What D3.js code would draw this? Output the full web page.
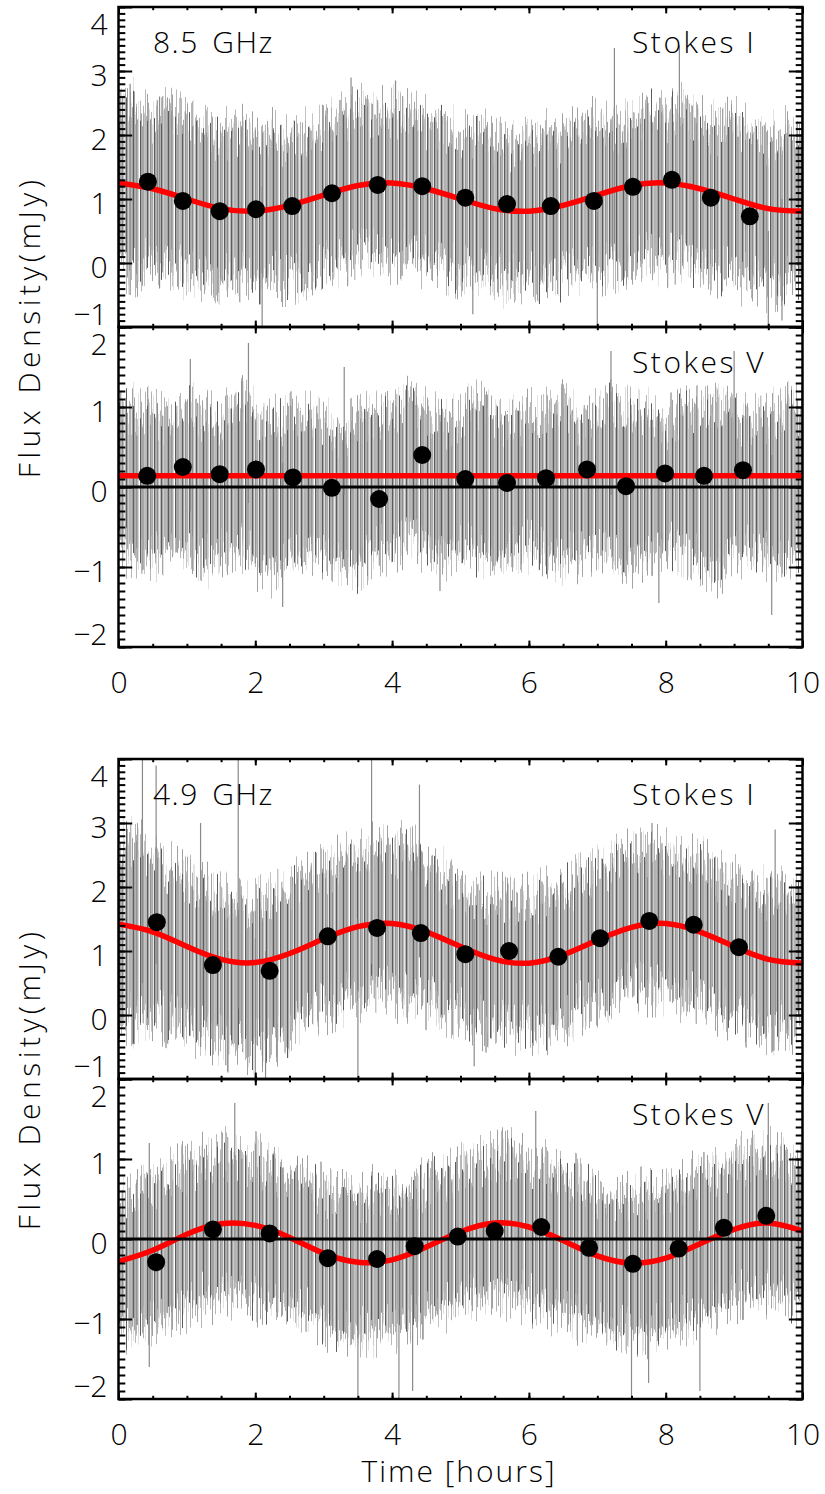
<!DOCTYPE html>
<html>
<head>
<meta charset="utf-8">
<script src="https://cdn.jsdelivr.net/npm/d3@7"></script>
<style>
  body { margin: 0; background: #fff; }
  text { font-family: "Open Sans", "DejaVu Sans", sans-serif; font-weight: 300; }
</style>
</head>
<body>
<div id="chart"></div>
<script>
// ---- data ----
const xTicks = [0, 2, 4, 6, 8, 10];
const yTicksI = [-1, 0, 1, 2, 3, 4];
const yTicksV = [-2, -1, 0, 1, 2];

// time grid for the noisy error-bar envelope (hours)
const bandHours = [0,0.25,0.5,0.75,1,1.25,1.5,1.75,2,2.25,2.5,2.75,3,3.25,3.5,3.75,4,4.25,4.5,4.75,5,
  5.25,5.5,5.75,6,6.25,6.5,6.75,7,7.25,7.5,7.75,8,8.25,8.5,8.75,9,9.25,9.5,9.75,10];
// time grid for the red model curve
const fitHours = [0,0.5,1,1.5,2,2.5,3,3.5,4,4.5,5,5.5,6,6.5,7,7.5,8,8.5,9,9.5,10];

// 8.5 GHz, Stokes I
const i85BinT = [0.43,0.94,1.48,2.01,2.54,3.12,3.79,4.44,5.07,5.68,6.32,6.95,7.52,8.09,8.66,9.23];
const i85BinV = [1.27,0.97,0.81,0.84,0.89,1.09,1.22,1.20,1.02,0.92,0.89,0.97,1.19,1.30,1.02,0.73];
const i85Fit = [1.25,1.16,1.00,0.85,0.81,0.90,1.06,1.21,1.25,1.16,1.00,0.85,0.81,0.90,1.06,1.21,1.25,1.16,1.00,0.85,0.81];
const i85Hi = [2.4,2.5,2.3,2.4,2.2,2.1,2.0,2.1,1.9,2.0,1.9,2.1,2.2,2.3,2.4,2.3,2.4,2.3,2.2,2.1,2.0,
  2.1,1.9,1.8,1.9,2.0,1.9,2.1,2.2,2.1,2.3,2.4,2.3,2.4,2.2,2.1,2.2,2.0,1.9,2.1,2.0];
const i85Lo = [0.0,-0.1,0.0,-0.15,-0.15,-0.25,-0.3,-0.25,-0.3,-0.25,-0.25,-0.15,-0.05,0.05,0.1,0.15,0.05,0.1,0.0,-0.05,-0.15,
  -0.2,-0.25,-0.3,-0.25,-0.3,-0.25,-0.15,-0.1,-0.05,0.05,0.1,0.05,0.0,-0.05,-0.15,-0.2,-0.3,-0.35,-0.3,-0.25];
const i85Spikes = [[0.17,-0.5,2.8],[0.6,-0.4,2.6],[2.1,-1.0,1.2],[3.4,0.2,2.9],[4.05,0.1,2.85],[5.18,-0.8,1.0],
  [7.0,-1.0,0.8],[7.25,0.3,3.36],[8.2,0.4,3.4],[9.5,-1.0,0.5],[9.7,-0.9,1.0]];

// 8.5 GHz, Stokes V
const v85BinT = [0.42,0.94,1.48,2.01,2.55,3.12,3.81,4.44,5.07,5.68,6.25,6.85,7.42,7.99,8.56,9.13];
const v85BinV = [0.14,0.25,0.16,0.22,0.12,-0.01,-0.15,0.40,0.10,0.05,0.11,0.22,0.01,0.17,0.14,0.21];
const v85Fit = [0.14,0.14];
const v85FitHours = [0, 10];
const v85Hi = [0.9,1.0,0.9,0.8,1.0,0.9,0.8,1.1,0.9,0.8,0.9,1.0,0.8,0.7,0.8,0.9,1.0,1.1,0.9,0.8,0.9,
  1.0,0.9,0.8,0.9,0.9,1.0,0.8,0.9,1.1,1.0,0.9,0.8,0.9,1.0,1.1,0.9,0.8,0.9,1.0,0.9];
const v85Lo = [-0.75,-0.85,-0.95,-0.75,-0.85,-0.95,-0.85,-0.75,-0.95,-1.05,-0.85,-0.75,-0.85,-0.95,-1.05,-0.85,-0.75,-0.65,-0.75,-0.85,-0.75,
  -0.85,-0.95,-0.85,-0.75,-0.85,-0.95,-0.85,-0.75,-0.85,-0.95,-0.85,-0.75,-0.85,-0.95,-1.05,-0.85,-0.75,-0.85,-0.95,-0.85];
const v85Spikes = [[1.05,-0.3,1.6],[1.9,-0.2,1.8],[2.4,-1.5,0.3],[3.3,-0.1,1.5],[4.7,-1.3,0.9],
  [7.2,-0.1,1.7],[7.9,-1.45,0.2],[9.0,0.0,1.7],[9.55,-1.6,0.4]];

// 4.9 GHz, Stokes I
const i49BinT = [0.56,1.38,2.21,3.06,3.78,4.42,5.07,5.71,6.43,7.04,7.76,8.41,9.07];
const i49BinV = [1.45,0.78,0.69,1.23,1.36,1.28,0.95,1.00,0.91,1.20,1.47,1.41,1.06];
const i49Fit = [1.42,1.30,1.07,0.87,0.82,0.96,1.19,1.38,1.43,1.30,1.07,0.87,0.81,0.94,1.17,1.37,1.43,1.30,1.07,0.87,0.81];
const i49Hi = [2.6,2.8,2.5,2.3,2.1,2.0,1.8,1.8,1.7,1.9,2.0,2.1,2.3,2.4,2.5,2.6,2.5,2.7,2.3,2.2,2.0,
  1.9,1.8,1.8,1.8,1.9,2.0,2.1,2.3,2.4,2.5,2.6,2.5,2.4,2.4,2.2,2.1,2.0,1.9,2.0,1.9];
const i49Lo = [0.0,-0.1,0.0,-0.1,-0.2,-0.3,-0.4,-0.5,-0.5,-0.4,-0.3,-0.1,0.1,0.2,0.3,0.4,0.3,0.3,0.2,0.1,0.0,
  -0.1,-0.2,-0.2,-0.2,-0.2,-0.1,0.1,0.2,0.3,0.4,0.4,0.4,0.3,0.2,0.1,0.0,-0.1,-0.2,-0.2,-0.2];
const i49Spikes = [[0.35,0.5,4.0],[0.55,0.8,3.9],[1.2,-0.5,3.0],[1.6,-0.9,1.0],[1.75,0.1,4.0],[2.0,-1.0,1.2],
  [2.15,-1.0,1.0],[3.5,-0.95,1.5],[3.7,0.8,4.0],[4.4,0.9,3.6],[5.2,-0.8,1.5],[7.8,0.6,3.0],[9.6,0.0,2.9]];

// 4.9 GHz, Stokes V
const v49BinT = [0.55,1.38,2.21,3.06,3.78,4.33,4.96,5.50,6.18,6.88,7.52,8.19,8.85,9.47];
const v49BinV = [-0.29,0.12,0.07,-0.24,-0.25,-0.09,0.03,0.10,0.15,-0.11,-0.31,-0.12,0.14,0.29];
const v49Fit = [-0.28,-0.14,0.06,0.19,0.17,0.02,-0.18,-0.29,-0.26,-0.10,0.09,0.20,0.15,-0.02,-0.21,-0.30,-0.24,-0.06,0.12,0.20,0.10];
const v49Hi = [0.5,0.6,0.7,0.8,0.9,1.0,1.1,1.0,1.0,0.9,0.8,0.7,0.6,0.6,0.5,0.6,0.5,0.6,0.7,0.8,0.9,
  1.0,1.0,1.1,0.9,0.9,0.8,0.7,0.6,0.5,0.5,0.6,0.6,0.7,0.8,0.8,1.0,1.0,1.1,1.0,0.9];
const v49Lo = [-1.05,-1.15,-1.05,-0.95,-0.85,-0.75,-0.7,-0.65,-0.75,-0.8,-0.85,-0.95,-1.05,-1.15,-1.2,-1.15,-1.1,-1.05,-0.95,-0.85,-0.75,
  -0.7,-0.65,-0.7,-0.75,-0.85,-0.9,-1.0,-1.05,-1.15,-1.2,-1.15,-1.1,-1.05,-0.95,-0.85,-0.75,-0.7,-0.65,-0.75,-0.8];
const v49Spikes = [[0.45,-1.6,1.2],[1.7,0.0,1.7],[3.5,-2.1,0.0],[4.1,-2.05,0.3],[4.3,-1.9,0.5],[6.1,0.0,1.6],
  [7.5,-2.0,-0.2],[7.75,-1.8,0.0],[8.5,-1.9,0.1],[9.5,0.0,1.7]];

// ---- layout ----
const width = 825, height = 1494;
const left = 118.5, right = 802.5, panelH = 320;

const svg = d3.select("#chart").append("svg")
  .attr("width", width).attr("height", height);

const defs = svg.append("defs");

// vertical error-bar texture: thin gray bars of two shades
function barPattern(id, w, bars) {
  const pat = defs.append("pattern").attr("id", id)
    .attr("patternUnits", "userSpaceOnUse").attr("width", w).attr("height", 4);
  bars.forEach(b => pat.append("rect").attr("x", b[0]).attr("width", b[1]).attr("height", 4).attr("fill", b[2]));
}
barPattern("barsA", 7, [[0, 1, "#5c5c5c"], [1, 1.4, "#a6a6a6"], [3.4, 1, "#7e7e7e"], [4.4, 1, "#bcbcbc"]]);
barPattern("barsB", 5, [[0.5, 1, "#707070"], [2, 1.3, "#a0a0a0"]]);

// per-column vertical jitter so each bar stands on its own, like the scattered error bars
function jitter(id, seed, scale) {
  const f = defs.append("filter").attr("id", id)
    .attr("filterUnits", "userSpaceOnUse")
    .attr("x", 0).attr("y", 0).attr("width", width).attr("height", height)
    .attr("color-interpolation-filters", "sRGB");
  f.append("feTurbulence").attr("type", "fractalNoise")
    .attr("baseFrequency", "0.8 0.0015").attr("numOctaves", 2).attr("seed", seed).attr("result", "n");
  f.append("feColorMatrix").attr("in", "n").attr("type", "matrix")
    .attr("values", "0 0 0 0 0.5  2.4 0 0 0 -0.7  0 0 0 0 0  0 0 0 0 1").attr("result", "m");
  f.append("feDisplacementMap").attr("in", "SourceGraphic").attr("in2", "m")
    .attr("scale", scale).attr("xChannelSelector", "R").attr("yChannelSelector", "G");
}
jitter("jitA", 4, 46);
jitter("jitB", 11, 56);

const x = d3.scaleLinear().domain([0, 10]).range([left, right]);

const panels = [
  {top: 7,    dom: [-1, 4], ticks: yTicksI, label: "Stokes I", freq: "8.5 GHz",
   binT: i85BinT, binV: i85BinV, fitT: fitHours, fit: i85Fit, hi: i85Hi, lo: i85Lo, spikes: i85Spikes, zero: false, xlab: false},
  {top: 327,  dom: [-2, 2], ticks: yTicksV, label: "Stokes V", freq: null,
   binT: v85BinT, binV: v85BinV, fitT: v85FitHours, fit: v85Fit, hi: v85Hi, lo: v85Lo, spikes: v85Spikes, zero: true, xlab: true},
  {top: 759,  dom: [-1, 4], ticks: yTicksI, label: "Stokes I", freq: "4.9 GHz",
   binT: i49BinT, binV: i49BinV, fitT: fitHours, fit: i49Fit, hi: i49Hi, lo: i49Lo, spikes: i49Spikes, zero: false, xlab: false},
  {top: 1079, dom: [-2, 2], ticks: yTicksV, label: "Stokes V", freq: null,
   binT: v49BinT, binV: v49BinV, fitT: fitHours, fit: v49Fit, hi: v49Hi, lo: v49Lo, spikes: v49Spikes, zero: true, xlab: true}
];

const fontSize = 30;

panels.forEach((p, k) => {
  const y = d3.scaleLinear().domain(p.dom).range([p.top + panelH, p.top]);
  const clipId = "clip" + k;
  defs.append("clipPath").attr("id", clipId)
    .append("rect").attr("x", left).attr("y", p.top).attr("width", right - left).attr("height", panelH);

  const g = svg.append("g");
  const data = g.append("g").attr("clip-path", `url(#${clipId})`);

  // noisy error bars: envelope filled with bar texture, two jittered layers
  const band = bandHours.map((t, i) => ({t, hi: p.hi[i], lo: p.lo[i]}));
  const area = d3.area().x(d => x(d.t)).y0(d => y(d.lo)).y1(d => y(d.hi));
  data.append("path").datum(band)
    .attr("fill", "url(#barsB)").attr("filter", "url(#jitB)").attr("d", area);
  data.append("path").datum(band)
    .attr("fill", "url(#barsA)").attr("filter", "url(#jitA)").attr("d", area);

  // isolated long error bars
  data.selectAll("line.spike")
    .data(p.spikes)
    .join("line")
    .attr("class", "spike")
    .attr("x1", d => x(d[0])).attr("x2", d => x(d[0]))
    .attr("y1", d => y(d[1])).attr("y2", d => y(d[2]))
    .attr("stroke", "#8a8a8a").attr("stroke-width", 1.2);

  // red model
  const fit = p.fitT.map((t, i) => ({t, v: p.fit[i]}));
  data.append("path")
    .datum(fit)
    .attr("fill", "none")
    .attr("stroke", "#ff0000")
    .attr("stroke-width", 5.5)
    .attr("d", d3.line().x(d => x(d.t)).y(d => y(d.v)).curve(d3.curveNatural));

  if (p.zero) {
    data.append("line")
      .attr("x1", left).attr("x2", right)
      .attr("y1", y(0)).attr("y2", y(0))
      .attr("stroke", "#000").attr("stroke-width", 3);
  }

  // binned points
  data.selectAll("circle")
    .data(p.binT.map((t, i) => ({t, v: p.binV[i]})))
    .join("circle")
    .attr("cx", d => x(d.t)).attr("cy", d => y(d.v)).attr("r", 9)
    .attr("fill", "#000");

  // ---- axes ----
  const minorY = d3.range(p.dom[0], p.dom[1] + 0.001, 0.1);
  const minorX = d3.range(0, 10.001, 0.5);

  const styleAxis = sel => {
    sel.select(".domain").remove();
    sel.selectAll("line").attr("stroke", "#000").attr("stroke-width", 2);
    sel.attr("font-size", fontSize).attr("font-family", null);
  };

  g.append("g").attr("transform", `translate(${left},0)`)
    .call(d3.axisLeft(y).tickValues(minorY).tickSize(-6.8).tickFormat(""))
    .call(styleAxis);
  const yAx = g.append("g").attr("transform", `translate(${left},0)`)
    .call(d3.axisLeft(y).tickValues(p.ticks).tickSize(-13.7).tickPadding(11).tickFormat(d3.format("d")))
    .call(styleAxis);
  yAx.selectAll("text")
    .attr("dy", null)
    .attr("y", d => d === p.dom[1] ? 27 : d === p.dom[0] ? -3 : 14.5);

  g.append("g").attr("transform", `translate(${right},0)`)
    .call(d3.axisRight(y).tickValues(minorY).tickSize(-6.8).tickFormat(""))
    .call(styleAxis);
  g.append("g").attr("transform", `translate(${right},0)`)
    .call(d3.axisRight(y).tickValues(p.ticks).tickSize(-13.7).tickFormat(""))
    .call(styleAxis);

  g.append("g").attr("transform", `translate(0,${p.top})`)
    .call(d3.axisTop(x).tickValues(minorX).tickSize(-3.2).tickFormat(""))
    .call(styleAxis);
  g.append("g").attr("transform", `translate(0,${p.top})`)
    .call(d3.axisTop(x).tickValues(xTicks).tickSize(-6.4).tickFormat(""))
    .call(styleAxis);
  g.append("g").attr("transform", `translate(0,${p.top + panelH})`)
    .call(d3.axisBottom(x).tickValues(minorX).tickSize(-3.2).tickFormat(""))
    .call(styleAxis);
  const xAx = g.append("g").attr("transform", `translate(0,${p.top + panelH})`)
    .call(d3.axisBottom(x).tickValues(xTicks).tickSize(-6.4)
      .tickFormat(p.xlab ? d3.format("d") : ""))
    .call(styleAxis);
  xAx.selectAll("text").attr("dy", null).attr("y", 46);

  // frame
  g.append("rect")
    .attr("x", left).attr("y", p.top).attr("width", right - left).attr("height", panelH)
    .attr("fill", "none").attr("stroke", "#000").attr("stroke-width", 2.5);

  // labels
  g.append("text").attr("x", 632).attr("y", p.top + 46)
    .attr("font-size", fontSize).attr("letter-spacing", 2.5).text(p.label);
  if (p.freq) {
    g.append("text").attr("x", 153).attr("y", p.top + 46)
      .attr("font-size", fontSize).attr("letter-spacing", 1.5).attr("word-spacing", 4).text(p.freq);
  }
});

// y titles
[327, 1079].forEach(cy => {
  svg.append("text")
    .attr("transform", `translate(40,${cy}) rotate(-90)`)
    .attr("text-anchor", "middle")
    .attr("font-size", fontSize).attr("letter-spacing", 4.5)
    .text("Flux Density(mJy)");
});

svg.append("text")
  .attr("x", 459).attr("y", 1482)
  .attr("text-anchor", "middle")
  .attr("font-size", fontSize).attr("letter-spacing", 2)
  .text("Time [hours]");
</script>
</body>
</html>
